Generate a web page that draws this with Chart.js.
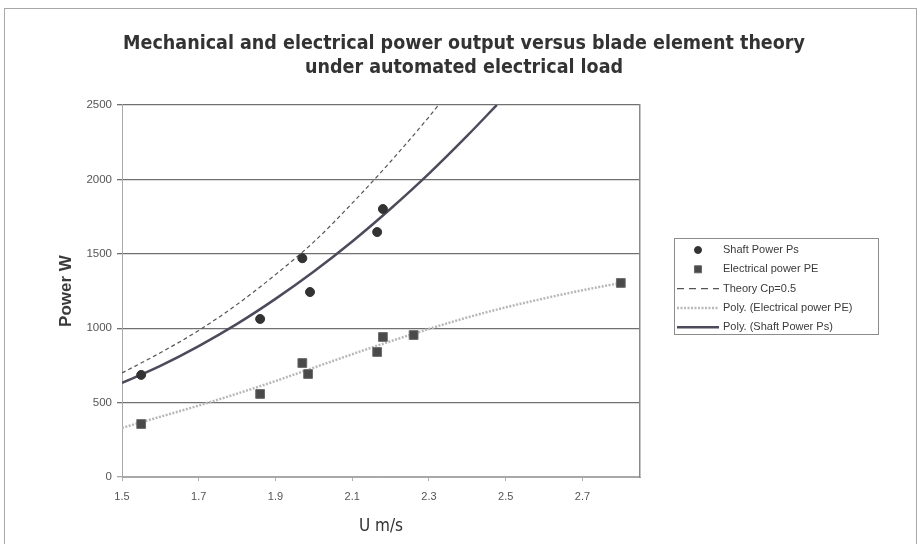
<!DOCTYPE html>
<html lang="en">
<head>
  <meta charset="UTF-8">
  <title>Mechanical and electrical power output</title>
  <style>
    html, body {
      margin: 0;
      padding: 0;
      background: #fff;
      overflow: hidden;
    }
    #wrap {
      position: relative;
      width: 920px;
      height: 544px;
    }
    #frame {
      position: absolute;
      left: 4px;
      top: 8px;
      width: 911px;
      height: 560px;
      border: 1px solid #a8a8a8;
      pointer-events: none;
    }
  </style>
</head>
<body>

  <div id="wrap">
    <canvas id="powerChart" width="920" height="544"></canvas>
    <div id="frame"></div>
  </div>

  <script src="https://cdn.jsdelivr.net/npm/chart.js"></script>

  <script>
    // Measured shaft power (W) against wind speed U (m/s)
    const shaftU = [1.55, 1.86, 1.97, 1.99, 2.165, 2.18];
    const shaftP = [686, 1062, 1470, 1243, 1646, 1801];

    // Measured electrical power (W)
    const elecU = [1.55, 1.86, 1.97, 1.985, 2.165, 2.18, 2.26, 2.80];
    const elecP = [356, 558, 766, 692, 840, 941, 954, 1304];

    // Blade element theory curve, Cp = 0.5
    const theoryU = [1.5, 1.6, 1.7, 1.8, 1.9, 2.0, 2.1, 2.2, 2.3, 2.325];
    const theoryP = [699, 835, 985, 1160, 1360, 1580, 1840, 2120, 2420, 2500];

    // Polynomial trend lines
    const elecFitU = [1.5, 1.6, 1.7, 1.8, 1.9, 2.0, 2.1, 2.2, 2.3, 2.4, 2.5, 2.6, 2.7, 2.8];
    const elecFitP = [330, 405, 480, 560, 645, 735, 825, 912, 995, 1072, 1140, 1200, 1255, 1304];
    const shaftFitU = [1.5, 1.6, 1.7, 1.8, 1.9, 2.0, 2.1, 2.2, 2.3, 2.4, 2.477];
    const shaftFitP = [632, 747, 880, 1029, 1197, 1381, 1583, 1803, 2039, 2294, 2500];

    // Axis ticks
    const xTicks = [1.5, 1.7, 1.9, 2.1, 2.3, 2.5, 2.7];
    const yTicks = [0, 500, 1000, 1500, 2000, 2500];

    const pts = (xs, ys) => xs.map((x, i) => ({ x: x, y: ys[i] }));

    const baseFont = "'Liberation Sans', Arial, sans-serif";
    const narrowFont = "'Liberation Sans Narrow', 'DejaVu Sans Condensed', 'Liberation Sans', sans-serif";

    Chart.defaults.font.family = baseFont;
    Chart.defaults.color = '#555';

    // Boxed legend to the right of the plot
    const boxLegend = {
      id: 'boxLegend',
      afterDraw(chart) {
        const ctx = chart.ctx;
        const left = 674, top = 238, width = 204, height = 96;
        ctx.save();
        ctx.strokeStyle = '#8c8c8c';
        ctx.lineWidth = 1;
        ctx.strokeRect(left + 0.5, top + 0.5, width, height);
        ctx.font = '11px ' + baseFont;
        ctx.textBaseline = 'middle';
        chart.data.datasets.forEach((ds, i) => {
          const y = top + 12 + i * 19.3;
          if (ds.showLine) {
            ctx.beginPath();
            ctx.setLineDash(ds.legendDash || ds.borderDash || []);
            ctx.lineWidth = ds.borderWidth;
            ctx.strokeStyle = ds.borderColor;
            ctx.moveTo(left + 3, y);
            ctx.lineTo(left + 45, y);
            ctx.stroke();
            ctx.setLineDash([]);
          } else {
            ctx.fillStyle = ds.backgroundColor;
            ctx.strokeStyle = ds.borderColor;
            ctx.lineWidth = 1;
            Chart.helpers.drawPoint(ctx, {
              pointStyle: ds.pointStyle,
              radius: ds.pointStyle === 'rect' ? 5 : 3.5,
              rotation: 0,
              borderWidth: 1
            }, left + 24, y);
          }
          ctx.fillStyle = '#3a3a3a';
          ctx.fillText(ds.label, left + 49, y);
        });
        ctx.restore();
      }
    };

    const ctx = document.getElementById('powerChart').getContext('2d');

    new Chart(ctx, {
      type: 'scatter',
      data: {
        datasets: [
          {
            label: 'Shaft Power Ps',
            data: pts(shaftU, shaftP),
            pointStyle: 'circle',
            pointRadius: 4.5,
            backgroundColor: '#333',
            borderColor: '#333',
            borderWidth: 1
          },
          {
            label: 'Electrical power PE',
            data: pts(elecU, elecP),
            pointStyle: 'rect',
            pointRadius: 6.2,
            backgroundColor: '#4a4a4a',
            borderColor: '#6a6a6a',
            borderWidth: 1
          },
          {
            label: 'Theory Cp=0.5',
            data: pts(theoryU, theoryP),
            showLine: true,
            borderColor: '#555',
            borderWidth: 1.2,
            borderDash: [4, 3],
            legendDash: [7, 5],
            pointRadius: 0,
            cubicInterpolationMode: 'monotone'
          },
          {
            label: 'Poly. (Electrical power PE)',
            data: pts(elecFitU, elecFitP),
            showLine: true,
            borderColor: '#b8b8b8',
            borderWidth: 2.5,
            borderDash: [2, 1.5],
            pointRadius: 0,
            cubicInterpolationMode: 'monotone'
          },
          {
            label: 'Poly. (Shaft Power Ps)',
            data: pts(shaftFitU, shaftFitP),
            showLine: true,
            borderColor: '#4b4b5c',
            borderWidth: 2.5,
            pointRadius: 0,
            cubicInterpolationMode: 'monotone'
          }
        ]
      },
      options: {
        responsive: false,
        animation: false,
        devicePixelRatio: 1,
        layout: { padding: { left: 8, right: 0, top: 0, bottom: 0 } },
        plugins: {
          legend: { display: false },
          tooltip: { enabled: false },
          title: {
            display: true,
            text: ['Mechanical and electrical power output versus blade element theory',
                   'under automated electrical load'],
            color: '#333',
            font: { family: narrowFont, size: 19.5, weight: 'bold', lineHeight: 1.23 },
            padding: { top: 32, bottom: 25 }
          }
        },
        scales: {
          x: {
            type: 'linear',
            min: 1.5,
            max: 2.85,
            afterBuildTicks: s => { s.ticks = xTicks.map(v => ({ value: v })); },
            afterFit: s => { s.height = 67; },
            grid: { drawOnChartArea: false, drawTicks: true, tickLength: 4, color: '#b0b0b0' },
            border: { color: '#a8a8a8', width: 1 },
            ticks: {
              padding: 9,
              color: '#555',
              font: { size: 11 },
              callback: v => v.toFixed(1)
            },
            title: {
              display: true,
              text: 'U m/s',
              color: '#333',
              font: { family: narrowFont, size: 17 },
              padding: { top: 0, bottom: 7 }
            }
          },
          y: {
            min: 0,
            max: 2500,
            afterBuildTicks: s => { s.ticks = yTicks.map(v => ({ value: v })); },
            afterFit: s => { s.width = 114; },
            grid: {
              color: c => (c.tick && c.tick.value === 0 ? '#a8a8a8' : '#707070'),
              lineWidth: 1.3,
              tickLength: 5
            },
            border: { color: '#a8a8a8', width: 1 },
            ticks: { padding: 5, color: '#555', font: { size: 11.5 }, callback: v => String(v) },
            title: {
              display: true,
              text: 'Power W',
              color: '#3a3a3a',
              font: { size: 17, weight: 'bold' },
              padding: { top: 48, bottom: 0 }
            }
          },
          y2: {
            position: 'right',
            min: 0,
            max: 2500,
            afterFit: s => { s.width = 280; },
            grid: { display: false },
            border: { color: '#8a8a8a', width: 1.5 },
            ticks: { display: false }
          }
        }
      },
      plugins: [boxLegend]
    });
  </script>

</body>
</html>
